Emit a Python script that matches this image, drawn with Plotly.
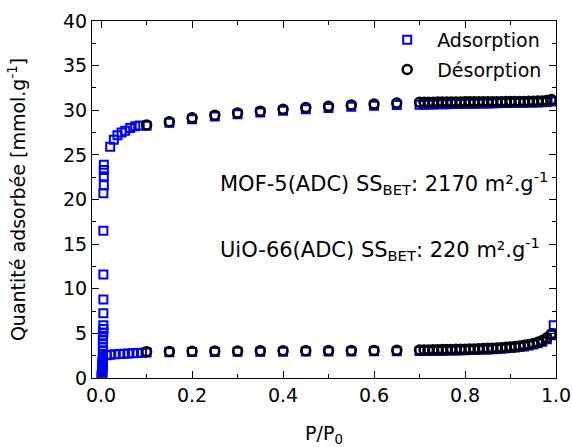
import plotly.graph_objects as go

# ---------------- data ----------------
dense_p = [0.70, 0.71, 0.72, 0.73, 0.74, 0.75, 0.76, 0.77, 0.78, 0.79,
           0.80, 0.81, 0.82, 0.83, 0.84, 0.85, 0.86, 0.87, 0.88, 0.89,
           0.90, 0.91, 0.92, 0.93, 0.94, 0.95, 0.96, 0.97, 0.98, 0.99]
mid_p = [0.10, 0.15, 0.20, 0.25, 0.30, 0.35, 0.40, 0.45, 0.50, 0.55, 0.60, 0.65]

# MOF-5 adsorption
mof_ads_low_p = [0.003, 0.003, 0.003, 0.004, 0.004, 0.004, 0.004, 0.004, 0.004, 0.004,
                 0.004, 0.004, 0.005, 0.005, 0.005, 0.005, 0.005, 0.005, 0.005, 0.005,
                 0.006, 0.006, 0.006, 0.006,
                 0.020, 0.028, 0.036, 0.045, 0.053, 0.064, 0.075, 0.085]
mof_ads_low_q = [0.3, 0.7, 1.1, 1.5, 1.9, 2.3, 2.7, 3.1, 3.5, 3.9,
                 4.3, 4.7, 5.1, 5.5, 5.9, 7.25, 8.8, 11.6, 16.5, 20.7,
                 21.6, 22.6, 23.3, 23.9,
                 25.9, 26.7, 27.2, 27.5, 27.7, 28.0, 28.2, 28.3]
mof_ads_mid_q = [28.25, 28.6, 29.0, 29.3, 29.55, 29.75, 29.95, 30.1, 30.25, 30.4, 30.5, 30.6]
mof_ads_dense_q = [30.62, 30.63, 30.64, 30.65, 30.66, 30.67, 30.68, 30.69, 30.70, 30.71,
                   30.72, 30.73, 30.74, 30.75, 30.76, 30.77, 30.78, 30.79, 30.80, 30.81,
                   30.82, 30.83, 30.84, 30.85, 30.86, 30.87, 30.88, 30.90, 30.93, 30.97]
mof_ads_end_p = [0.995]
mof_ads_end_q = [31.05]

# MOF-5 desorption
mof_des_mid_q = [28.35, 28.7, 29.15, 29.45, 29.7, 29.9, 30.1, 30.3, 30.45, 30.6, 30.7, 30.8]
mof_des_dense_q = [30.90, 30.90, 30.91, 30.91, 30.92, 30.92, 30.92, 30.93, 30.93, 30.93,
                   30.94, 30.94, 30.94, 30.95, 30.95, 30.95, 30.96, 30.96, 30.96, 30.97,
                   30.97, 30.98, 30.98, 30.99, 31.00, 31.01, 31.03, 31.05, 31.10, 31.20]

# UiO-66 adsorption
uio_ads_low_p = [0.001, 0.001, 0.002, 0.002, 0.002, 0.003, 0.003, 0.003, 0.004, 0.004,
                 0.012, 0.020, 0.030, 0.040, 0.050, 0.060, 0.070, 0.080, 0.090]
uio_ads_low_q = [0.1, 0.35, 0.6, 0.85, 1.1, 1.35, 1.6, 1.85, 2.1, 2.35,
                 2.55, 2.6, 2.65, 2.7, 2.72, 2.75, 2.78, 2.8, 2.82]
uio_ads_mid_q = [2.85, 2.88, 2.9, 2.92, 2.93, 2.94, 2.95, 2.96, 2.97, 2.98, 2.99, 3.0]
uio_ads_dense_q = [3.02, 3.03, 3.03, 3.04, 3.05, 3.06, 3.07, 3.08, 3.09, 3.10,
                   3.11, 3.13, 3.14, 3.16, 3.18, 3.20, 3.22, 3.25, 3.28, 3.32,
                   3.36, 3.41, 3.47, 3.54, 3.63, 3.74, 3.88, 4.07, 4.35, 4.80]
uio_ads_end_p = [0.995]
uio_ads_end_q = [5.9]

# UiO-66 desorption
uio_des_mid_q = [2.95, 2.98, 3.0, 3.02, 3.03, 3.04, 3.05, 3.06, 3.07, 3.08, 3.09, 3.1]
uio_des_dense_q = [3.14, 3.15, 3.15, 3.16, 3.17, 3.18, 3.19, 3.20, 3.21, 3.22,
                   3.23, 3.25, 3.26, 3.28, 3.30, 3.32, 3.34, 3.37, 3.40, 3.44,
                   3.48, 3.53, 3.59, 3.66, 3.75, 3.86, 4.00, 4.20, 4.50, 4.95]

legend_names = ["Adsorption", "Désorption"]
x_title = "P/P<sub>0</sub>"
y_title = "Quantité adsorbée [mmol.g<sup>-1</sup>]"
label_mof = "MOF-5(ADC) SS<sub>BET</sub>: 2170 m².g<sup>-1</sup>"
label_uio = "UiO-66(ADC) SS<sub>BET</sub>: 220 m².g<sup>-1</sup>"

# ---------------- build series ----------------
ads_p = (mof_ads_low_p + mid_p + dense_p + mof_ads_end_p
         + [None] + uio_ads_low_p + mid_p + dense_p + uio_ads_end_p)
ads_q = (mof_ads_low_q + mof_ads_mid_q + mof_ads_dense_q + mof_ads_end_q
         + [None] + uio_ads_low_q + uio_ads_mid_q + uio_ads_dense_q + uio_ads_end_q)
des_p = mid_p + dense_p + [None] + mid_p + dense_p
des_q = mof_des_mid_q + mof_des_dense_q + [None] + uio_des_mid_q + uio_des_dense_q

FONT = "DejaVu Sans, Arial, sans-serif"
FS = 19

fig = go.Figure()
fig.add_trace(go.Scatter(
    x=ads_p, y=ads_q, mode="markers", name=legend_names[0], legendgroup="a",
    marker=dict(symbol="square-open", size=8, color="#0000ff",
                line=dict(width=2, color="#0000ff")),
))
fig.add_trace(go.Scatter(
    x=des_p, y=des_q, mode="markers", name=legend_names[1], legendgroup="d",
    marker=dict(symbol="circle-open", size=9, color="#000000",
                line=dict(width=2.5, color="#000000")),
))

axis_common = dict(
    showline=True, linecolor="black", linewidth=1.2, mirror="ticks",
    ticks="inside", ticklen=7, tickwidth=1.2, tickcolor="black",
    showgrid=False, zeroline=False, automargin=False,
    tickfont=dict(family=FONT, size=FS, color="black"),
)

fig.update_xaxes(
    range=[-0.02, 1.0], dtick=0.2, tick0=0, tickformat=".1f",
    minor=dict(dtick=0.1, tick0=0, ticks="inside", ticklen=4, tickcolor="black"),
    title=dict(text=x_title, font=dict(family=FONT, size=FS, color="black"), standoff=25),
    **axis_common,
)
fig.update_yaxes(
    range=[0, 40], dtick=5, tick0=0,
    minor=dict(dtick=2.5, tick0=0, ticks="inside", ticklen=4, tickcolor="black"),
    title=dict(text=y_title, font=dict(family=FONT, size=FS, color="black"), standoff=32),
    **axis_common,
)

fig.add_annotation(x=0.258, y=21.9, xref="x", yref="y", text=label_mof,
                   showarrow=False, xanchor="left", yanchor="middle",
                   font=dict(family=FONT, size=21, color="black"))
fig.add_annotation(x=0.258, y=14.5, xref="x", yref="y", text=label_uio,
                   showarrow=False, xanchor="left", yanchor="middle",
                   font=dict(family=FONT, size=21, color="black"))

fig.update_layout(
    width=572, height=447,
    margin=dict(l=92, r=16, t=21, b=69),
    paper_bgcolor="white", plot_bgcolor="white",
    font=dict(family=FONT, size=FS, color="black"),
    hovermode=False,
    legend=dict(x=0.981, y=1.0, xanchor="right", yanchor="top",
                bgcolor="rgba(0,0,0,0)", borderwidth=0,
                font=dict(family=FONT, size=FS, color="black"),
                itemwidth=50, tracegroupgap=2),
    showlegend=True,
)

# remove the default 8px page margin so the figure fills the window exactly
fig.write_html(
    "out.html",
    config={"displayModeBar": False},
    post_script="document.body.style.margin='0';"
                "document.body.style.overflow='hidden';"
                "document.documentElement.style.overflow='hidden';",
)
